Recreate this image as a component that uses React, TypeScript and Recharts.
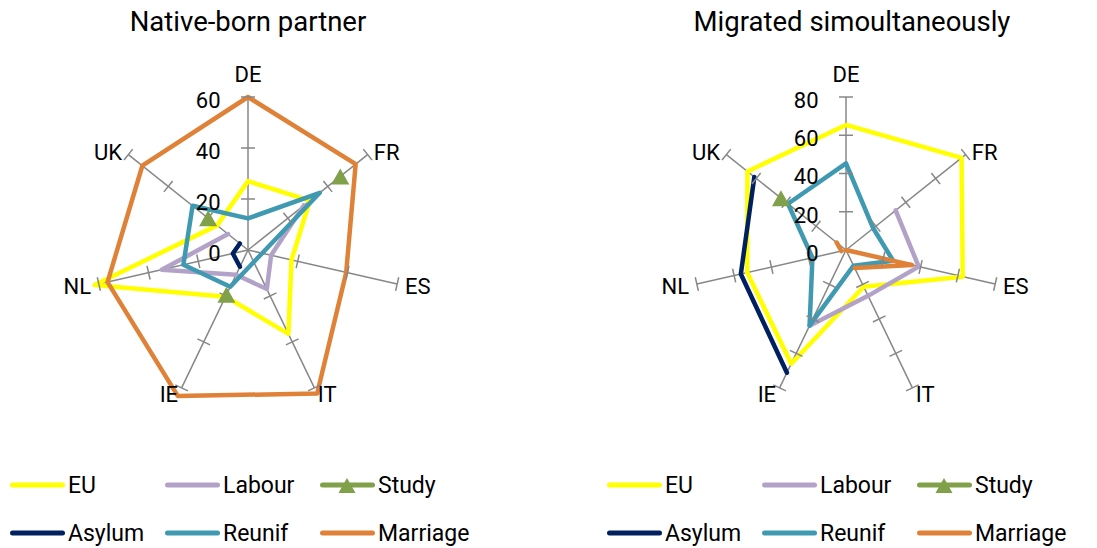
import { RadarChart, Radar, PolarGrid, PolarAngleAxis, PolarRadiusAxis } from "recharts";

const countries = ["DE", "FR", "ES", "IT", "IE", "NL", "UK"];
const seriesNames = ["EU", "Labour", "Study", "Asylum", "Reunif", "Marriage"];
const seriesColors = ["#FFFF00", "#B3A2C7", "#80A04A", "#002060", "#3F99B1", "#DF8238"];

// Native-born partner (order follows countries, null = no value)
const nativeEU = [27, 31, 17.5, 36.5, 20.3, 61.7, 15.5];
const nativeLabour = [null, 28, 9.3, 17, 10.8, 34.7, 10];
const nativeStudy = [null, 46.3, null, null, 19.5, null, 20];
const nativeAsylum = [null, null, null, null, 7.3, 6.1, 4.1];
const nativeReunif = [12.4, 36, 5.7, 5.2, 16, 26, 27.8];
const nativeMarriage = [60, 54, 39.5, 62.5, 63.5, 56.5, 53];
const nativeTicks = [0, 20, 40, 60];

// Migrated simoultaneously
const simulEU = [65.4, 77.3, 62.6, 21.3, 66, 53, 65.9];
const simulLabour = [null, 33.2, 39, 26.6, 43.9, null, null];
const simulStudy = [null, null, null, null, null, null, 43.5];
const simulAsylum = [null, null, null, null, 71.2, 56.4, 61.3];
const simulReunif = [45.3, 18.2, 25.3, 9.1, 43.9, 18, 38.8];
const simulMarriage = [null, 0, 35.5, 10.5, null, 2.4, 6.3];
const simulTicks = [0, 20, 40, 60, 80];

const FONT = "Roboto, 'Liberation Sans', sans-serif";
const R = 153;
const CY = 250;
const GRID = "#878787";

type Row = Record<string, string | number | null>;

const buildRows = (cols: (number | null)[][]): Row[] =>
  countries.map((c, i) => {
    const row: Row = { country: c };
    seriesNames.forEach((s, k) => {
      row[s] = cols[k][i];
    });
    return row;
  });

const nativeRows = buildRows([nativeEU, nativeLabour, nativeStudy, nativeAsylum, nativeReunif, nativeMarriage]);
const simulRows = buildRows([simulEU, simulLabour, simulStudy, simulAsylum, simulReunif, simulMarriage]);

// blank cells leave gaps (like Excel), the loop only closes when first and last exist
const gapPath = (points: any[]) => {
  const ok = points.map((p) => p && p.value != null && Number.isFinite(p.x) && Number.isFinite(p.y));
  const toD = (seg: any[]) => seg.map((p, i) => `${i ? "L" : "M"}${p.x},${p.y}`).join("");
  if (ok.every(Boolean)) return toD(points) + "Z";
  const segs: any[][] = [];
  let cur: any[] = [];
  points.forEach((p, i) => {
    if (ok[i]) cur.push(p);
    else {
      if (cur.length) segs.push(cur);
      cur = [];
    }
  });
  if (cur.length) segs.push(cur);
  if (segs.length > 1 && ok[0] && ok[ok.length - 1]) {
    const last = segs.pop()!;
    segs[0] = [...last, ...segs[0]];
  }
  return segs.filter((s) => s.length > 1).map(toD).join("");
};

const triangle = (x: number, y: number) => `M${x},${y - 8}L${x + 9},${y + 8}L${x - 9},${y + 8}Z`;

function RadarPanel({ rows, ticks, cx }: { rows: Row[]; ticks: number[]; cx: number }) {
  const max = ticks[ticks.length - 1];

  const angleTick = (props: any) => {
    const coord = (props.payload.coordinate * Math.PI) / 180;
    const ux = Math.cos(coord);
    const uy = -Math.sin(coord);
    const ex = cx + ux * R;
    const ey = CY + uy * R;
    const middle = Math.abs(ux) < 0.1;
    const tx = middle ? ex : ex + ux * 8;
    const tyCenter = middle ? ey + uy * 23 : ey + uy * 6 + 1;
    const anchor = middle ? "middle" : ux > 0 ? "start" : "end";
    return (
      <g>
        {ticks
          .filter((t) => t > 0)
          .map((t) => {
            const r = (R * t) / max;
            const px = cx + ux * r;
            const py = CY + uy * r;
            return (
              <line
                key={t}
                x1={px - uy * 7}
                y1={py + ux * 7}
                x2={px + uy * 7}
                y2={py - ux * 7}
                stroke={GRID}
                strokeWidth={1.5}
              />
            );
          })}
        <text x={tx} y={tyCenter + 0.355 * 22} textAnchor={anchor} fontSize={22} fontFamily={FONT} fill="#000">
          {props.payload.value}
        </text>
      </g>
    );
  };

  const radiusTick = (props: any) => (
    <text
      x={props.x - 27.5}
      y={props.y + 3 + 0.355 * 22}
      textAnchor="end"
      fontSize={22}
      fontFamily={FONT}
      fill="#000"
    >
      {props.payload.value}
    </text>
  );

  return (
    <RadarChart
      width={545}
      height={420}
      cx={cx}
      cy={CY}
      outerRadius={R}
      data={rows}
      margin={{ top: 0, right: 0, bottom: 0, left: 0 }}
    >
      <PolarGrid polarRadius={[]} radialLines stroke={GRID} strokeWidth={1.5} />
      <PolarAngleAxis dataKey="country" tick={angleTick} tickLine={false} axisLine={false} />
      <PolarRadiusAxis
        angle={90}
        domain={[0, max]}
        ticks={ticks}
        allowDataOverflow
        axisLine={false}
        tickLine={false}
        tick={radiusTick}
      />
      {seriesNames.map((s, k) => (
        <Radar
          key={s}
          name={s}
          dataKey={s}
          stroke={seriesColors[k]}
          fill="none"
          strokeWidth={4.5}
          isAnimationActive={false}
          shape={(p: any) => (
            <path
              d={gapPath(p.points)}
              fill="none"
              stroke={seriesColors[k]}
              strokeWidth={4.5}
              strokeLinejoin="round"
              strokeLinecap="round"
            />
          )}
          dot={
            s === "Study"
              ? (p: any) => {
                  const v = p.payload?.value ?? p.value;
                  if (v == null || !Number.isFinite(p.cx)) return <g key={p.index} />;
                  return <path key={p.index} d={triangle(p.cx, p.cy)} fill={seriesColors[k]} />;
                }
              : false
          }
        />
      ))}
    </RadarChart>
  );
}

function LegendBlock({ x0 }: { x0: number }) {
  return (
    <g>
      {seriesNames.map((s, k) => {
        const x = x0 + (k % 3) * 155;
        const y = 485 + Math.floor(k / 3) * 48;
        return (
          <g key={s}>
            <line x1={x + 2.5} y1={y} x2={x + 52.5} y2={y} stroke={seriesColors[k]} strokeWidth={5} strokeLinecap="round" />
            {s === "Study" && <path d={`M${x + 27},${y - 7}L${x + 35.5},${y + 8}L${x + 18.5},${y + 8}Z`} fill={seriesColors[k]} />}
            <text x={x + 58} y={y + 8.3} fontSize={23} fontFamily={FONT} fill="#000">
              {s}
            </text>
          </g>
        );
      })}
    </g>
  );
}

export default function App() {
  return (
    <div style={{ position: "absolute", left: 0, top: 0, width: 1097, height: 548, background: "#fff", overflow: "hidden" }}>
      <div style={{ position: "absolute", left: 0, top: 0 }}>
        <RadarPanel rows={nativeRows} ticks={nativeTicks} cx={248} />
      </div>
      <div style={{ position: "absolute", left: 550, top: 0 }}>
        <RadarPanel rows={simulRows} ticks={simulTicks} cx={296} />
      </div>
      <svg width={1097} height={548} style={{ position: "absolute", left: 0, top: 0, pointerEvents: "none" }}>
        <text x={248} y={31} textAnchor="middle" fontSize={27.5} fontFamily={FONT} fill="#000">
          Native-born partner
        </text>
        <text x={852} y={31} textAnchor="middle" fontSize={27.5} fontFamily={FONT} fill="#000">
          Migrated simoultaneously
        </text>
        <LegendBlock x0={10} />
        <LegendBlock x0={607} />
      </svg>
    </div>
  );
}
